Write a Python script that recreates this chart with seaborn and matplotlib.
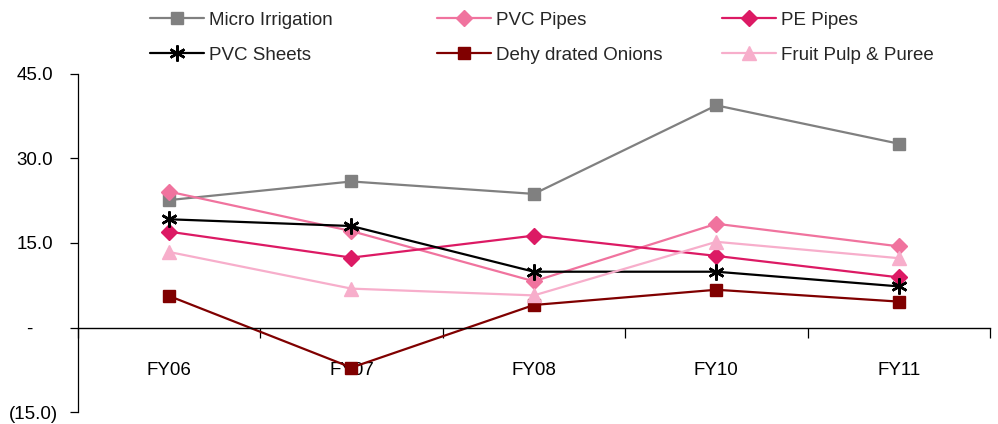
import matplotlib
matplotlib.use("Agg")
import matplotlib.pyplot as plt
import matplotlib.transforms as mtransforms
from matplotlib.lines import Line2D
import seaborn as sns
import pandas as pd
from matplotlib.ticker import FixedLocator

years = ["FY06", "FY07", "FY08", "FY10", "FY11"]
micro_irrigation = [22.6, 25.9, 23.7, 39.4, 32.6]
pvc_pipes = [24.1, 17.1, 8.2, 18.4, 14.4]
pe_pipes = [17.0, 12.4, 16.3, 12.7, 8.9]
pvc_sheets = [19.2, 18.0, 9.9, 9.9, 7.3]
dehydrated_onions = [5.6, -7.1, 4.0, 6.7, 4.6]
fruit_pulp = [13.4, 6.9, 5.7, 15.2, 12.3]

series = {
    "Micro Irrigation": micro_irrigation,
    "PVC Pipes": pvc_pipes,
    "PE Pipes": pe_pipes,
    "PVC Sheets": pvc_sheets,
    "Dehy drated Onions": dehydrated_onions,
    "Fruit Pulp & Puree": fruit_pulp,
}
y_ticks = [45, 30, 15, 0, -15]
y_tick_labels = ["45.0", "30.0", "15.0", "-", "(15.0)"]

colors = {
    "Micro Irrigation": "#808080",
    "PVC Pipes": "#F0739E",
    "PE Pipes": "#DC1A64",
    "PVC Sheets": "#000000",
    "Dehy drated Onions": "#800000",
    "Fruit Pulp & Puree": "#F7AECB",
}
markers = {
    "Micro Irrigation": "s",
    "PVC Pipes": "D",
    "PE Pipes": "D",
    "PVC Sheets": (6, 2, 0),
    "Dehy drated Onions": "s",
    "Fruit Pulp & Puree": "^",
}
marker_sizes = {
    "Micro Irrigation": 9,
    "PVC Pipes": 8.5,
    "PE Pipes": 8.5,
    "PVC Sheets": 11.5,
    "Dehy drated Onions": 9,
    "Fruit Pulp & Puree": 9.5,
}

df = pd.DataFrame(
    [(name, yr, v) for name, vals in series.items() for yr, v in zip(years, vals)],
    columns=["series", "year", "value"],
)

sns.set_style("white")
plt.rcParams["font.family"] = ["Liberation Sans Narrow", "Liberation Sans", "DejaVu Sans"]
plt.rcParams["font.size"] = 13

fig = plt.figure(figsize=(9.98, 4.24), dpi=100)
ax = fig.add_axes([0.078, 0.028, 0.914, 0.798])

for name in series:
    sub = df[df["series"] == name]
    sns.lineplot(
        data=sub, x="year", y="value", ax=ax, color=colors[name],
        marker=markers[name], markersize=marker_sizes[name],
        markeredgecolor=colors[name],
        markeredgewidth=1.8 if name == "PVC Sheets" else 1.0,
        linewidth=1.6, sort=False, legend=False,
    )

ax.set_ylim(-15, 45)
ax.set_xlim(-0.5, len(years) - 0.5)
ax.set_yticks(y_ticks)
ax.set_yticklabels(y_tick_labels)
ax.set_xlabel("")
ax.set_ylabel("")

for s in ["top", "right"]:
    ax.spines[s].set_visible(False)
ax.spines["left"].set_color("#000000")
ax.spines["left"].set_linewidth(0.9)
ax.spines["bottom"].set_position(("data", 0))
ax.spines["bottom"].set_color("#000000")
ax.spines["bottom"].set_linewidth(1.0)

ax.tick_params(axis="y", which="major", direction="out", length=5.8, width=0.9,
               left=True, pad=12, labelsize=13.5, colors="#000000")

# accounting-style alignment: dash sits further left, parenthesis hangs right
label_shift = {"-": -21 / 100, "(15.0)": 5 / 100}
for lbl in ax.get_yticklabels():
    dx = label_shift.get(lbl.get_text(), 0)
    if dx:
        lbl.set_transform(lbl.get_transform()
                          + mtransforms.ScaledTranslation(dx, 0, fig.dpi_scale_trans))

ax.xaxis.set_minor_locator(FixedLocator([i - 0.5 for i in range(len(years) + 1)]))
ax.tick_params(axis="x", which="minor", direction="out", length=7, width=0.9,
               bottom=True, color="#000000")
ax.tick_params(axis="x", which="major", length=0, pad=24.5, labelsize=13.5,
               colors="#000000")

# legend: three columns of two entries each
names = list(series)
columns = [[names[0], names[3]], [names[1], names[4]], [names[2], names[5]]]
col_x = [150 / 998, 437 / 998, 722 / 998]
for cx, col in zip(col_x, columns):
    hs = [Line2D([], [], color=colors[n], marker=markers[n],
                 markersize=marker_sizes[n], markeredgecolor=colors[n],
                 markeredgewidth=1.8 if n == "PVC Sheets" else 1.0,
                 linewidth=1.6) for n in col]
    fig.legend(hs, col, loc="center left", bbox_to_anchor=(cx, 1 - 37.5 / 424),
               bbox_transform=fig.transFigure, frameon=False, fontsize=13.5,
               handlelength=2.9, handletextpad=0.25, labelspacing=0.95,
               borderpad=0, borderaxespad=0)

fig.savefig("out.png", dpi=100)
